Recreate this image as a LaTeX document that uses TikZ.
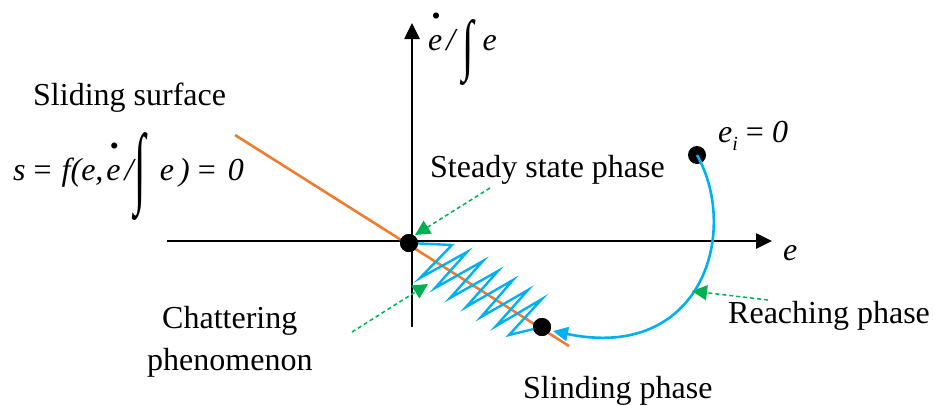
\documentclass[tikz,border=0pt]{standalone}
\usepackage{fontspec}
\setmainfont{Liberation Serif}
\usetikzlibrary{arrows.meta}
\definecolor{myorange}{RGB}{237,125,49}
\definecolor{myblue}{RGB}{0,176,240}
\definecolor{mygreen}{RGB}{0,176,80}
\newcommand\dotE{\makebox[0pt][l]{\hspace{0.1em}\raisebox{0.8em}{\scalebox{0.8}{\textbullet}}}e}
\newcommand\intsign[3]{\raisebox{#3}{\scalebox{#1}[#2]{\upshape ∫}}}
\begin{document}
\begin{tikzpicture}[x=1pt,y=-1pt,
  lbl/.style={inner sep=0pt,anchor=base west,font=\fontsize{32}{38}\selectfont},
  dotnode/.style={circle,fill=black,minimum size=18pt,inner sep=0pt},
  axis/.style={line width=2.6pt,-{Triangle[length=16pt,width=15pt]}},
  greenarrow/.style={mygreen,dash pattern=on 4pt off 3pt,line width=1.5pt,-{Triangle[length=15pt,width=15pt]}},
  bluearc/.style={myblue,line width=2.6pt,-{Triangle[length=15pt,width=14pt]}},
  zig/.style={myblue,line width=2.4pt,line join=miter},
  surface/.style={myorange,line width=2.6pt}]
\useasboundingbox (0,0) rectangle (934,405);
% axes
\coordinate (xl) at (167,241);
\coordinate (xr) at (772,241);
\coordinate (yb) at (412,327);
\coordinate (yt) at (412,23);
\draw[axis] (xl) -- (xr);
\draw[axis] (yb) -- (yt);
% sliding surface
\coordinate (s1) at (235,135);
\coordinate (s2) at (569,346);
\draw[surface] (s1) -- (s2);
% dots
\node[dotnode] (O) at (409,243) {};
\node[dotnode] (S) at (542,327) {};
\node[dotnode] (I) at (697,155) {};
% chattering zigzag
\draw[zig] (O.center) -- (452,245) -- (420,278) -- (467,252) -- (435,288) -- (483,261)
  -- (450,298) -- (498,271) -- (466,307) -- (513,280) -- (481,317) -- (528,290)
  -- (496,326) -- (542,299) -- (509,335) -- (S.center);
\node[dotnode] at (O) {};
\node[dotnode] at (S) {};
% reaching arc
\coordinate (arcend) at (553,331);
\draw[bluearc] (I.center) .. controls (740,232) and (702,362) .. (arcend);
% labels
\node[lbl] (ylab) at (428,50) {\itshape \dotE\hspace{4pt}/\hspace{7pt}\intsign{1.3}{2.1}{-17pt}\hspace{9pt}e};
\node[lbl] (xlab) at (783,260) {\itshape e};
\node[lbl] (ss) at (33,105) {Sliding surface};
\node[lbl] (form) at (13,180) {\itshape s\hspace{8pt}{\upshape =}\hspace{10pt}f(e,\hspace{3pt}\dotE\hspace{4pt}/\hspace{1pt}\intsign{1.3}{2.8}{-16pt}\hspace{14pt}e\hspace{5pt})\hspace{8pt}{\upshape =}\hspace{12pt}0};
\node[lbl] (ei) at (718,142) {\itshape e\raisebox{-0.25em}{\fontsize{20}{24}\selectfont i} {\upshape =} 0};
\node[lbl] (steady) at (430,177) {Steady state phase};
\node[lbl] (chat1) at (162,328) {Chattering};
\node[lbl] (chat2) at (147,370) {phenomenon};
\node[lbl] (reach) at (728,323) {Reaching phase};
\node[lbl] (slid) at (523,398) {Slinding phase};
% green pointers
\coordinate (g1) at (490,188);
\coordinate (g1t) at (415,235);
\coordinate (g2) at (352,332);
\coordinate (g2t) at (428,284);
\coordinate (g3) at (768,300);
\coordinate (g3t) at (692,291);
\draw[greenarrow] (g1) -- (g1t);
\draw[greenarrow] (g2) -- (g2t);
\draw[greenarrow] (g3) -- (g3t);
\end{tikzpicture}
\end{document}
